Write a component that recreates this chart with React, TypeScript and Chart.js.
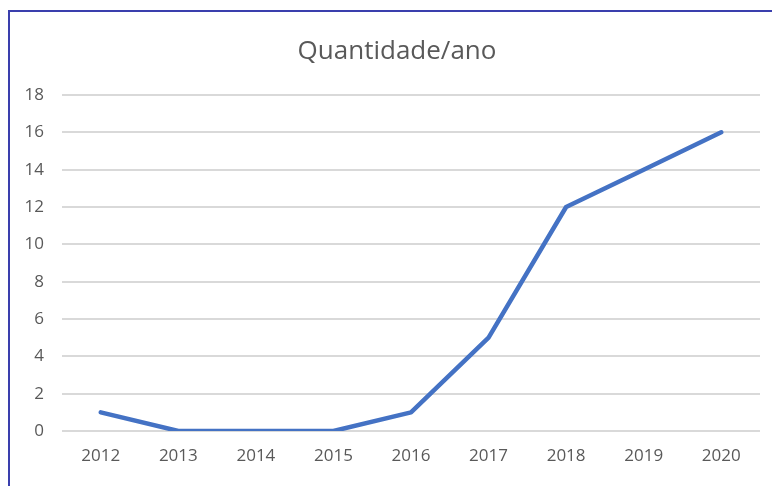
import React, { useEffect, useRef } from "react";
import { Chart, registerables } from "chart.js";

Chart.register(...registerables);

const categories = ["2012", "2013", "2014", "2015", "2016", "2017", "2018", "2019", "2020"];
const quantidade = [1, 0, 0, 0, 1, 5, 12, 14, 16];
const titleText = "Quantidade/ano";

const shiftTitle = {
  id: "shiftTitle",
  afterLayout(chart: any) {
    const t = chart.titleBlock;
    if (t) {
      t.left += 34;
    }
  },
};

export default function App() {
  const ref = useRef<HTMLCanvasElement | null>(null);

  useEffect(() => {
    if (!ref.current) return;
    const chart = new Chart(ref.current, {
      type: "line",
      data: {
        labels: categories,
        datasets: [
          {
            label: "Quantidade",
            data: quantidade,
            borderColor: "#4472C4",
            backgroundColor: "#4472C4",
            borderWidth: 4.5,
            pointRadius: 0,
            tension: 0,
            borderCapStyle: "round",
            borderJoinStyle: "round",
          },
        ],
      },
      options: {
        responsive: false,
        animation: false,
        layout: { padding: { left: 0, right: 12, top: 0, bottom: 0 } },
        plugins: {
          legend: { display: false },
          tooltip: { enabled: false },
          title: {
            display: true,
            text: titleText,
            color: "#595959",
            font: { family: "'Open Sans'", size: 26, weight: "normal" },
            padding: { top: 36.4, bottom: 27.4 },
          },
        },
        scales: {
          x: {
            offset: true,
            grid: { display: false, drawTicks: false },
            border: { display: false },
            ticks: {
              color: "#595959",
              font: { family: "'Open Sans'", size: 17 },
              padding: 15,
              maxRotation: 0,
            },
            afterFit: (scale: any) => {
              scale.height = 55;
            },
          },
          y: {
            min: 0,
            max: 18,
            grid: { color: "#d9d9d9", lineWidth: 2, drawTicks: false },
            border: { display: false },
            ticks: {
              stepSize: 2,
              color: "#595959",
              font: { family: "'Open Sans'", size: 17 },
              padding: 18,
            },
            afterFit: (scale: any) => {
              scale.width = 62;
            },
          },
        },
      },
      plugins: [shiftTitle],
    });
    return () => chart.destroy();
  }, []);

  return (
    <div style={{ position: "fixed", left: 0, top: 0, width: 772, height: 486, overflow: "hidden", background: "#fff" }}>
      <canvas ref={ref} width={772} height={486} style={{ position: "absolute", left: 0, top: 0 }} />
      <div
        style={{
          position: "absolute",
          left: 8,
          top: 10,
          width: 800,
          height: 500,
          borderLeft: "2px solid #3a3fad",
          borderTop: "2px solid #3a3fad",
          pointerEvents: "none",
        }}
      />
    </div>
  );
}
